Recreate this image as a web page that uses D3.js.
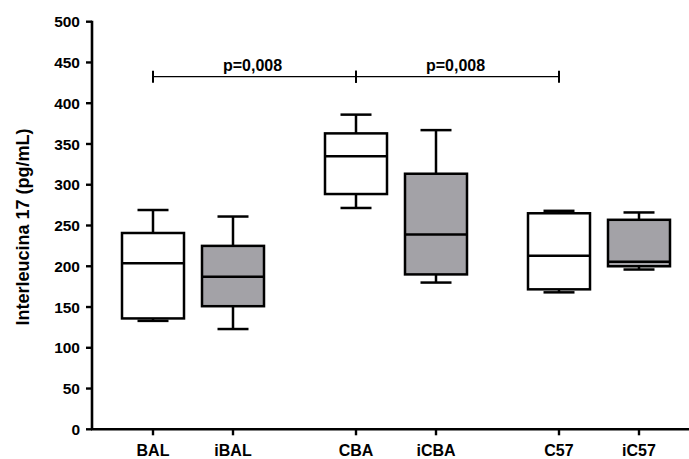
<!DOCTYPE html>
<html>
<head>
<meta charset="utf-8">
<script src="https://cdn.jsdelivr.net/npm/d3@7"></script>
<style>
  body { margin: 0; background: #fff; }
  svg { display: block; font-family: 'Liberation Sans', Arial, sans-serif; font-weight: bold; }
</style>
</head>
<body>
<svg id="chart" width="689" height="459"></svg>
<script>
var categories = ['BAL', 'iBAL', 'CBA', 'iCBA', 'C57', 'iC57']
var strains = ['BAL', 'CBA', 'C57']
var whiskerLow = [133, 123, 271.5, 180, 168, 196]
var q1 = [136, 151, 288.6, 190, 171.7, 200]
var median = [203.6, 187, 335, 239, 213, 205.6]
var q3 = [240.8, 225, 363, 313.5, 265, 257]
var whiskerHigh = [269, 261, 386, 367, 268, 266]
var yTicks = [0, 50, 100, 150, 200, 250, 300, 350, 400, 450, 500]
var comparisons = [
  { from: 'BAL', to: 'CBA', label: 'p=0,008', at: 432.6 },
  { from: 'CBA', to: 'C57', label: 'p=0,008', at: 432.6 }
]

var svg = d3.select('#chart')

var y = d3.scaleLinear().domain([0, 500]).range([429.3, 21.7])

// strain groups, each with plain + "i" box
var xGroup = d3.scalePoint().domain(strains).range([193, 599])
var xInner = d3.scalePoint().domain(['', 'i']).range([-40, 40])
function xPos(cat) {
  var infected = cat[0] === 'i'
  var strain = infected ? cat.slice(1) : cat
  return xGroup(strain) + xInner(infected ? 'i' : '')
}

var boxW = 62,
  capW = 31

// y axis
var yAxis = svg.append('g').attr('transform', 'translate(92,0)')
yAxis.append('line')
  .attr('y1', y(500) - 1).attr('y2', y(0))
  .attr('stroke', '#000').attr('stroke-width', 2.6)
yAxis.selectAll('.tick')
  .data(yTicks)
  .enter()
  .append('line')
  .attr('x1', -6).attr('x2', 0)
  .attr('y1', d => y(d)).attr('y2', d => y(d))
  .attr('stroke', '#000').attr('stroke-width', 2.4)
yAxis.selectAll('text')
  .data(yTicks)
  .enter()
  .append('text')
  .attr('x', -12)
  .attr('y', d => y(d))
  .attr('dy', '0.36em')
  .attr('text-anchor', 'end')
  .style('font-size', '15.5px')
  .text(d => d)

// x axis
var xAxis = svg.append('g').attr('transform', 'translate(0,' + y(0) + ')')
xAxis.append('line')
  .attr('x1', 91).attr('x2', 689)
  .attr('stroke', '#000').attr('stroke-width', 2.6)
xAxis.selectAll('.tick')
  .data(categories)
  .enter()
  .append('line')
  .attr('x1', d => xPos(d)).attr('x2', d => xPos(d))
  .attr('y1', 0).attr('y2', 6)
  .attr('stroke', '#000').attr('stroke-width', 2.4)
xAxis.selectAll('text')
  .data(categories)
  .enter()
  .append('text')
  .attr('x', d => xPos(d))
  .attr('y', 27)
  .attr('text-anchor', 'middle')
  .style('font-size', '16px')
  .text(d => d)

// y label
svg.append('text')
  .attr('transform', 'translate(29,' + 227 + ') rotate(-90)')
  .attr('text-anchor', 'middle')
  .style('font-size', '18px')
  .text('Interleucina 17 (pg/mL)')

// boxes
var boxes = svg.selectAll('.box')
  .data(categories)
  .enter()
  .append('g')
  .attr('class', 'box')

boxes.each(function(cat, i) {
  var g = d3.select(this)
  var cx = xPos(cat)
  var fill = cat[0] === 'i' ? '#a3a2a7' : '#fff'
  // whiskers
  g.append('line')
    .attr('x1', cx).attr('x2', cx)
    .attr('y1', y(whiskerHigh[i])).attr('y2', y(q3[i]))
    .attr('stroke', '#000').attr('stroke-width', 2.5)
  g.append('line')
    .attr('x1', cx).attr('x2', cx)
    .attr('y1', y(q1[i])).attr('y2', y(whiskerLow[i]))
    .attr('stroke', '#000').attr('stroke-width', 2.5)
  g.append('line')
    .attr('x1', cx - capW / 2).attr('x2', cx + capW / 2)
    .attr('y1', y(whiskerHigh[i])).attr('y2', y(whiskerHigh[i]))
    .attr('stroke', '#000').attr('stroke-width', 2.5)
  g.append('line')
    .attr('x1', cx - capW / 2).attr('x2', cx + capW / 2)
    .attr('y1', y(whiskerLow[i])).attr('y2', y(whiskerLow[i]))
    .attr('stroke', '#000').attr('stroke-width', 2.5)
  g.append('rect')
    .attr('x', cx - boxW / 2)
    .attr('y', y(q3[i]))
    .attr('width', boxW)
    .attr('height', y(q1[i]) - y(q3[i]))
    .attr('fill', fill)
    .attr('stroke', '#000').attr('stroke-width', 2.5)
  g.append('line')
    .attr('x1', cx - boxW / 2).attr('x2', cx + boxW / 2)
    .attr('y1', y(median[i])).attr('y2', y(median[i]))
    .attr('stroke', '#000').attr('stroke-width', 2.5)
})

// significance brackets
var brackets = svg.selectAll('.bracket')
  .data(comparisons)
  .enter()
  .append('g')
  .attr('class', 'bracket')

brackets.append('line')
  .attr('x1', d => xPos(d.from)).attr('x2', d => xPos(d.to))
  .attr('y1', d => y(d.at)).attr('y2', d => y(d.at))
  .attr('stroke', '#000').attr('stroke-width', 1.3)
brackets.append('line')
  .attr('x1', d => xPos(d.from)).attr('x2', d => xPos(d.from))
  .attr('y1', d => y(d.at) - 6).attr('y2', d => y(d.at) + 6)
  .attr('stroke', '#000').attr('stroke-width', 2)
brackets.append('line')
  .attr('x1', d => xPos(d.to)).attr('x2', d => xPos(d.to))
  .attr('y1', d => y(d.at) - 6).attr('y2', d => y(d.at) + 6)
  .attr('stroke', '#000').attr('stroke-width', 2)
brackets.append('text')
  .attr('x', d => (xPos(d.from) + xPos(d.to)) / 2 - 2)
  .attr('y', d => y(d.at) - 6)
  .attr('text-anchor', 'middle')
  .style('font-size', '16px')
  .text(d => d.label)
</script>
</body>
</html>
